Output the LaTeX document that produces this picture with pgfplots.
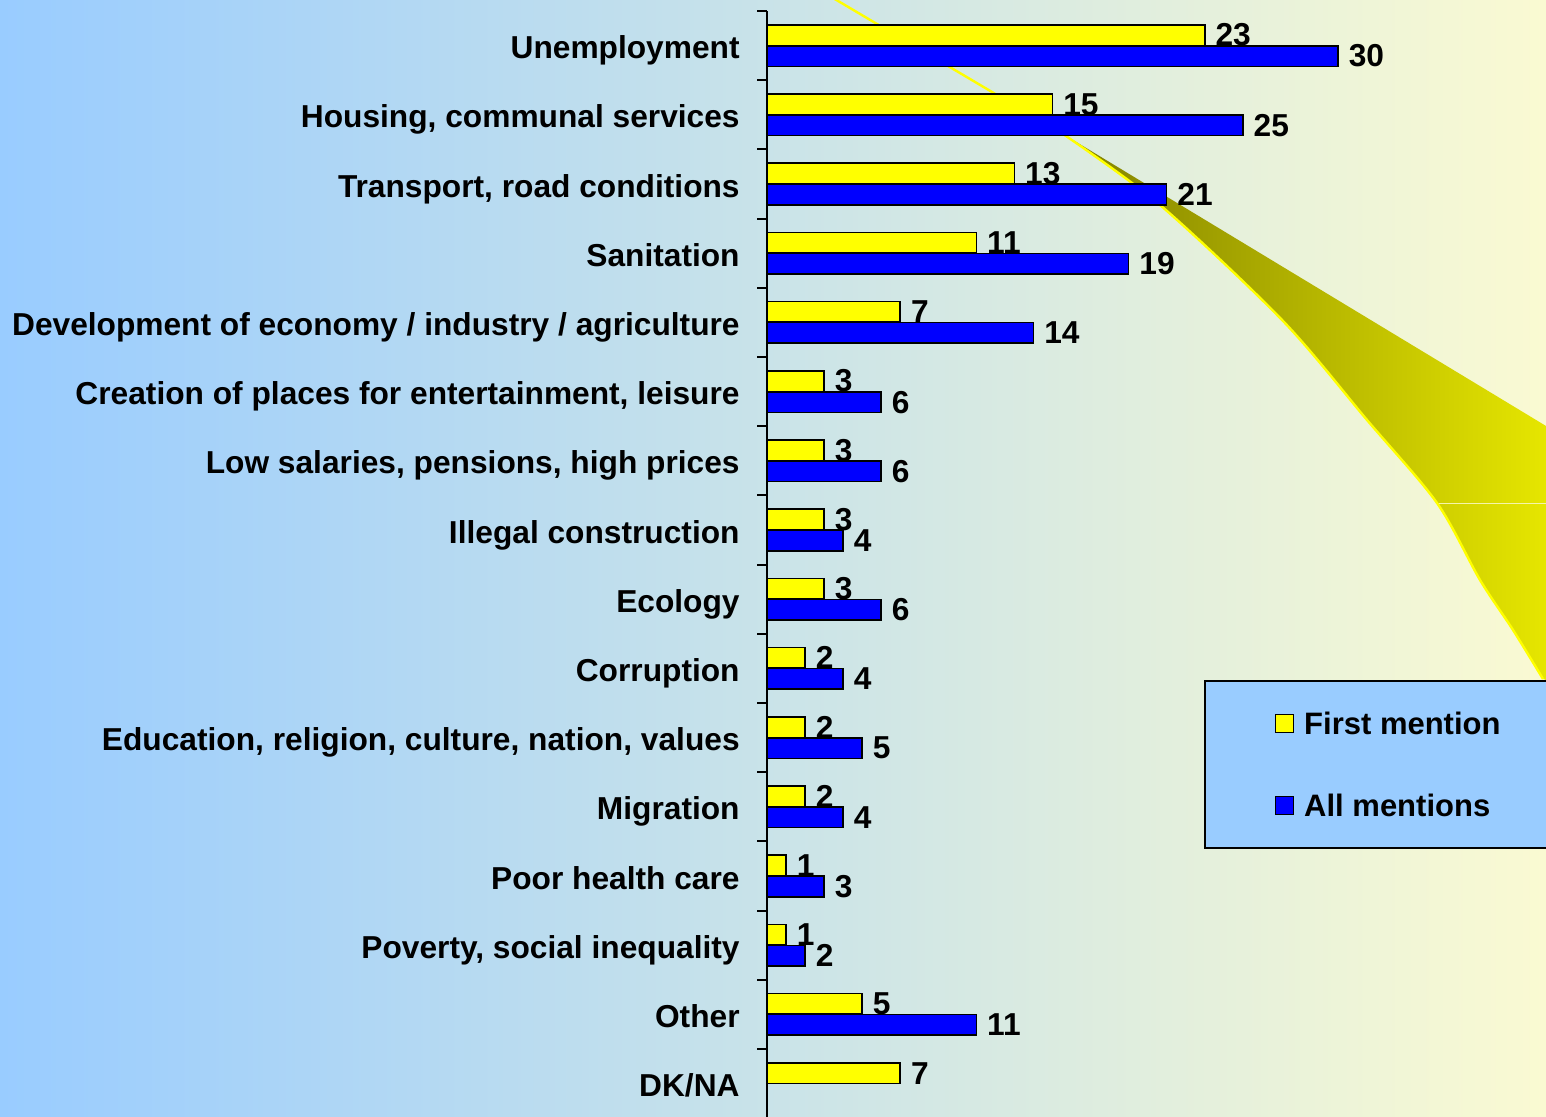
\documentclass[border=0pt]{standalone}
\usepackage{fontspec}
\setmainfont{Liberation Sans}
\usepackage{pgfplots}
\pgfplotsset{compat=1.18}
\definecolor{bgleft}{RGB}{153,204,255}
\definecolor{bgright}{RGB}{250,250,210}
\definecolor{barY}{RGB}{255,255,0}
\definecolor{barB}{RGB}{0,0,255}
\definecolor{legfill}{RGB}{153,204,255}
\definecolor{olive1}{RGB}{128,128,0}
\definecolor{olive2}{RGB}{230,230,0}
\newcommand{\lblfont}{\fontsize{15.85}{18}\selectfont\bfseries}
\newcommand{\legfont}{\fontsize{15.5}{18}\selectfont\bfseries}

\begin{document}
\begin{tikzpicture}
\shade[left color=bgleft, right color=bgright] (0,0) rectangle (773pt,558.5pt);
\begin{scope}[x=0.5pt,y=-0.5pt,yshift=558.5pt]
  \shade[left color=olive1, right color=olive2]
    (1063,134) -- (1546,426) -- (1546,680)
    -- plot[smooth] coordinates {(1543,679) (1513,630) (1480,580) (1437,503) (1367,420) (1283,321) (1160,205) (1063,134)} -- cycle;
  \draw[color={rgb,255:red,245;green,245;blue,170}, line width=0.4pt] (1437,503) -- (1546,503);
  \draw[barY, line width=1.2pt] (833,-2) -- plot[smooth] coordinates {(1063,134) (1160,205) (1283,321) (1367,420) (1437,503) (1480,580) (1513,630) (1543,679)};
\end{scope}
\begin{axis}[
  at={(383.5pt,-0.6pt)}, anchor=south west,
  scale only axis, width=389.5pt, height=553.6pt,
  xmin=0, xmax=40.93, ymin=-0.5, ymax=15.5,
  xbar, bar width=10.25pt,
  axis x line=none, axis y line=left,
  y axis line style={-, line width=1.1pt, black},
  /pgf/number format/assume math mode=true,
  ytick={0,...,15},
  yticklabels={DK/NA, Other, {Poverty, social inequality}, Poor health care, Migration, {Education, religion, culture, nation, values}, Corruption, Ecology, Illegal construction, {Low salaries, pensions, high prices}, {Creation of places for entertainment, leisure}, {Development of economy / industry / agriculture}, Sanitation, {Transport, road conditions}, {Housing, communal services}, Unemployment},
  major tick length=0pt,
  minor ytick={0.5,1.5,...,15.5},
  minor tick length=5pt, tick align=outside,
  minor tick style={line width=1pt, black},
  yticklabel style={font=\lblfont, inner sep=0pt, text height=11.4pt, text depth=0pt, xshift=-13.5pt, yshift=-0.9pt},
  nodes near coords,
  nodes near coords style={font=\lblfont, anchor=west, inner sep=0pt, xshift=5pt, text=black},
  clip=false,
  legend cell align=left,
  legend style={at={(0.561,0.3958)}, anchor=north west, fill=legfill, draw=black, line width=1pt,
    inner xsep=35pt, inner ysep=15.6pt, row sep=29.75pt, column sep=5pt, font=\legfont,
    nodes={inner sep=0pt, text depth=0pt}},
]
\addplot[draw=black, fill=barY, line width=0.8pt, bar shift=5.25pt,
  legend image code/.code={\draw[draw=black, fill=barY, line width=0.6pt] (0pt,-4.5pt) rectangle (9pt,4.5pt);}]
  coordinates {(23,15) (15,14) (13,13) (11,12) (7,11) (3,10) (3,9) (3,8) (3,7) (2,6) (2,5) (2,4) (1,3) (1,2) (5,1) (7,0)};
\addlegendentry{First mention}
\addplot[draw=black, fill=barB, line width=0.8pt, bar shift=-5.25pt,
  legend image code/.code={\draw[draw=black, fill=barB, line width=0.6pt] (0pt,-4.5pt) rectangle (9pt,4.5pt);}]
  coordinates {(30,15) (25,14) (21,13) (19,12) (14,11) (6,10) (6,9) (4,8) (6,7) (4,6) (5,5) (4,4) (3,3) (2,2) (11,1)};
\addlegendentry{All mentions}
\end{axis}
\pgfresetboundingbox
\path[use as bounding box] (0,0) rectangle (773pt,558.5pt);
\end{tikzpicture}
\end{document}
